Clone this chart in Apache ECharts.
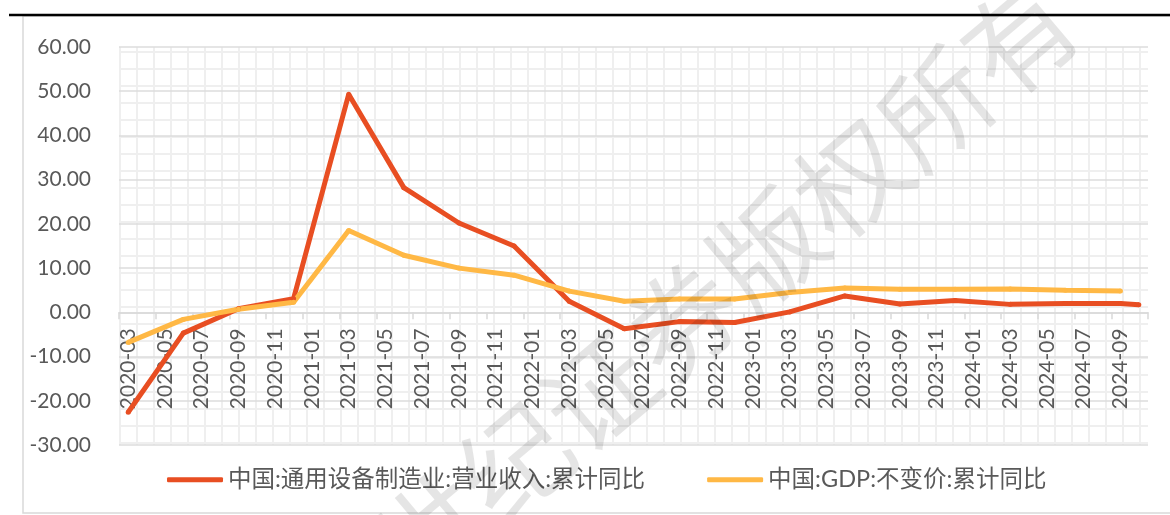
<!DOCTYPE html>
<html>
<head>
<meta charset="utf-8">
<script src="https://cdn.jsdelivr.net/npm/echarts@6/dist/echarts.min.js"></script>
<style>
  html, body { margin: 0; padding: 0; background: #fff; }
  #chart { width: 1170px; height: 515px; }
</style>
</head>
<body>
<div id="chart"></div>
<script>
const months = [
  '2020-03', '2020-04', '2020-05', '2020-06', '2020-07', '2020-08', '2020-09', '2020-10', '2020-11', '2020-12',
  '2021-01', '2021-02', '2021-03', '2021-04', '2021-05', '2021-06', '2021-07', '2021-08', '2021-09', '2021-10', '2021-11', '2021-12',
  '2022-01', '2022-02', '2022-03', '2022-04', '2022-05', '2022-06', '2022-07', '2022-08', '2022-09', '2022-10', '2022-11', '2022-12',
  '2023-01', '2023-02', '2023-03', '2023-04', '2023-05', '2023-06', '2023-07', '2023-08', '2023-09', '2023-10', '2023-11', '2023-12',
  '2024-01', '2024-02', '2024-03', '2024-04', '2024-05', '2024-06', '2024-07', '2024-08', '2024-09', '2024-10'
]

// 中国:通用设备制造业:营业收入:累计同比
const equipDates = [
  '2020-03', '2020-06', '2020-09', '2020-12', '2021-03', '2021-06', '2021-09', '2021-12',
  '2022-03', '2022-06', '2022-09', '2022-12', '2023-03', '2023-06', '2023-09', '2023-12',
  '2024-03', '2024-06', '2024-09', '2024-10'
]
const equipValues = [
  -22.6, -4.7, 0.8, 3.1, 49.3, 28.2, 20.2, 15.0,
  2.5, -3.7, -2.1, -2.3, 0.1, 3.7, 1.9, 2.7,
  1.8, 2.0, 2.0, 1.7
]

// 中国:GDP:不变价:累计同比
const gdpDates = [
  '2020-03', '2020-06', '2020-09', '2020-12', '2021-03', '2021-06', '2021-09', '2021-12',
  '2022-03', '2022-06', '2022-09', '2022-12', '2023-03', '2023-06', '2023-09', '2023-12',
  '2024-03', '2024-06', '2024-09'
]
const gdpValues = [
  -6.8, -1.6, 0.7, 2.3, 18.5, 12.9, 10.0, 8.4,
  4.8, 2.5, 3.0, 3.0, 4.5, 5.5, 5.2, 5.2,
  5.3, 5.0, 4.8
]

const yTicks = [-30, -20, -10, 0, 10, 20, 30, 40, 50, 60]

function toMonthly(dates, values) {
  const out = months.map(() => null)
  dates.forEach((d, i) => { out[months.indexOf(d)] = values[i] })
  return out
}

// light grid-paper background of the plot area
function paperPattern() {
  const c = document.createElement('canvas')
  c.width = 17
  c.height = 17
  const ctx = c.getContext('2d')
  ctx.fillStyle = '#ffffff'
  ctx.fillRect(0, 0, 17, 17)
  ctx.fillStyle = '#efefef'
  ctx.fillRect(0, 0, 17, 2)
  ctx.fillRect(0, 0, 2, 17)
  return { image: c, repeat: 'repeat' }
}

const chart = echarts.init(document.getElementById('chart'))
const textColor = '#595959'
const font = 'Lato, "Noto Sans CJK SC", sans-serif'

const gridTop = 47
const gridBottom = 70
const plotHeight = 515 - gridTop - gridBottom
const yMin = yTicks[0]
const yMax = yTicks[yTicks.length - 1]
// x axis sits on the zero line, as in the source chart
const zeroOffset = -plotHeight * (0 - yMin) / (yMax - yMin)

chart.setOption({
  backgroundColor: '#fff',
  animation: false,
  textStyle: { fontFamily: font },
  grid: {
    left: 119, right: 22, top: gridTop, bottom: gridBottom,
    outerBoundsMode: 'none',
    containLabel: false,
    show: true,
    backgroundColor: paperPattern(),
    borderWidth: 0
  },
  legend: {
    left: 162,
    top: 463,
    icon: 'roundRect',
    itemWidth: 56,
    itemHeight: 5,
    itemGap: 62,
    textStyle: { color: textColor, fontSize: 23.5, fontFamily: font },
    data: ['中国:通用设备制造业:营业收入:累计同比', '中国:GDP:不变价:累计同比']
  },
  xAxis: {
    type: 'category',
    data: months,
    boundaryGap: true,
    offset: zeroOffset,
    axisLine: { onZero: false, lineStyle: { color: '#d9d9d9', width: 1.5 } },
    axisTick: { show: true, interval: 1, length: 7, lineStyle: { color: '#d9d9d9', width: 1.5 } },
    axisLabel: {
      interval: 1,
      rotate: 90,
      margin: 16,
      color: textColor,
      fontSize: 21,
      fontFamily: font
    },
    splitLine: { show: false }
  },
  yAxis: {
    type: 'value',
    min: yMin,
    max: yMax,
    interval: 10,
    axisLine: { show: false },
    axisTick: { show: false },
    axisLabel: {
      margin: 28,
      color: textColor,
      fontSize: 21,
      fontFamily: font,
      formatter: (v) => v.toFixed(2)
    },
    splitLine: { lineStyle: { color: '#dcdcdc', width: 1.5 } }
  },
  series: [
    {
      name: '中国:通用设备制造业:营业收入:累计同比',
      type: 'line',
      data: toMonthly(equipDates, equipValues),
      connectNulls: true,
      symbol: 'circle',
      symbolSize: 5,
      color: '#e84e22',
      lineStyle: { width: 5, color: '#e84e22' },
      itemStyle: { color: '#e84e22' }
    },
    {
      name: '中国:GDP:不变价:累计同比',
      type: 'line',
      data: toMonthly(gdpDates, gdpValues),
      connectNulls: true,
      symbol: 'circle',
      symbolSize: 5,
      color: '#ffb845',
      lineStyle: { width: 5, color: '#ffb845' },
      itemStyle: { color: '#ffb845' }
    }
  ],
  graphic: [
    // chart frame
    {
      type: 'rect',
      silent: true,
      shape: { x: 23, y: 16, width: 1160, height: 497 },
      style: { fill: 'none', stroke: '#d9d9d9', lineWidth: 1.5 },
      z: -1
    },
    // black rule on top
    {
      type: 'line',
      silent: true,
      shape: { x1: 9, y1: 15, x2: 1170, y2: 15 },
      style: { stroke: '#000', lineWidth: 2.5 }
    },
    // watermark
    {
      type: 'text',
      silent: true,
      x: 725,
      y: 285,
      rotation: 0.7,
      z: 100,
      style: {
        text: '世纪证券版权所有',
        font: '110px "Noto Sans CJK SC"',
        fill: 'rgba(0, 0, 0, 0.1)',
        align: 'center',
        verticalAlign: 'middle'
      }
    }
  ]
})
</script>
</body>
</html>
